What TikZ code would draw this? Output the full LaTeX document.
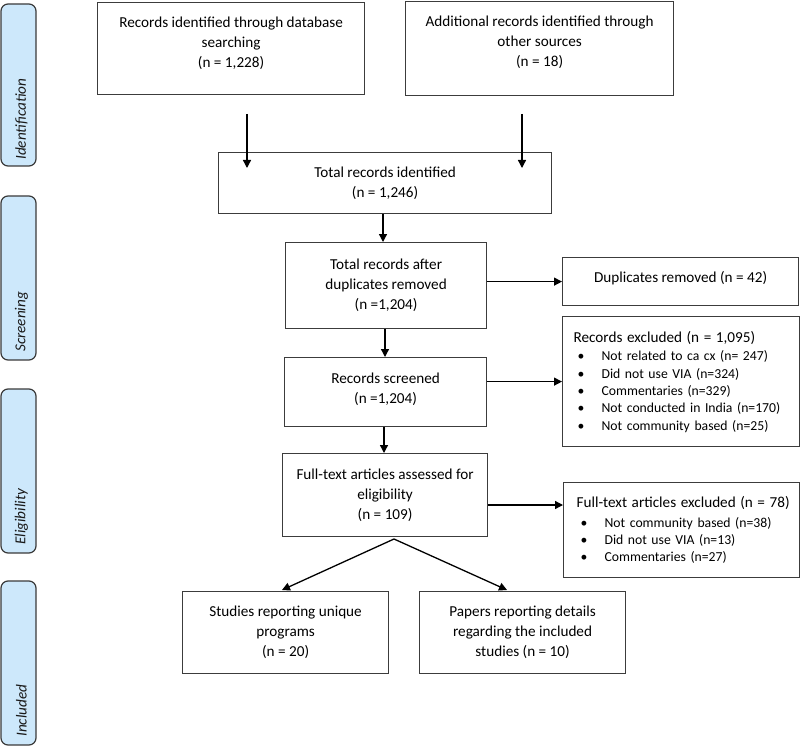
\documentclass[tikz,border=0pt]{standalone}
\usepackage{fontspec}
\setmainfont{Carlito}
\usetikzlibrary{arrows.meta}
\definecolor{sidefill}{HTML}{CDE8FB}
\definecolor{sidedraw}{HTML}{3A3A3A}
\definecolor{boxdraw}{HTML}{3C3C3C}
\newcommand\bdot{\makebox[28pt][l]{\hspace{4pt}\textbullet}}
\begin{document}
\begin{tikzpicture}[x=1pt,y=-1pt,
  box/.style={draw=boxdraw, line width=1.2pt, fill=white, align=center,
    font=\fontsize{15.2}{20}\selectfont, inner sep=0pt, anchor=north west},
  btxt/.style={align=center, font=\fontsize{15.2}{20}\selectfont, inner sep=0pt},
  lbox/.style={draw=boxdraw, line width=1.2pt, fill=white, align=left,
    font=\fontsize{13.7}{17.3}\selectfont, inner ysep=0pt, anchor=north west},
  side/.style={draw=sidedraw, fill=sidefill, line width=1.2pt, rounded corners=7pt,
    minimum width=35pt, inner sep=0pt},
  sidetxt/.style={rotate=90, anchor=west, inner sep=0pt,
    font=\fontsize{15.2}{18}\selectfont\itshape, text=black!90},
  arr/.style={-{Triangle[length=8pt,width=8pt]}, line width=1.3pt, black}]
\useasboundingbox (0,0) rectangle (800,746);

% phase labels
\node[side, minimum height=162pt] (sid) at (18.5,85) {};
\node[side, minimum height=164pt] (ssc) at (18.5,278) {};
\node[side, minimum height=164pt] (sel) at (18.5,471) {};
\node[side, minimum height=164pt] (sin) at (18.5,663) {};
\node[sidetxt] (tid) at (21.5,160) {Identification};
\node[sidetxt] (tsc) at (21.5,352) {Screening};
\node[sidetxt] (tel) at (21.5,545) {Eligibility};
\node[sidetxt] (tin) at (21.5,737) {Included};

% boxes
\node[box, minimum width=267pt, minimum height=92pt,
  label={[btxt, yshift=5pt]center:{Records identified through database\\searching\\(n = 1,228)}}] (db) at (97,2) {};
\node[box, minimum width=268pt, minimum height=94pt,
  label={[btxt, yshift=6pt]center:{Additional records identified through\\other sources\\(n = 18)}}] (add) at (405,1) {};
\node[box, minimum width=333pt, minimum height=61pt] (tot) at (218,152)
  {Total records identified\\(n = 1,246)};
\node[box, minimum width=201pt, minimum height=86pt] (dup) at (285,242)
  {Total records after\\duplicates removed\\(n =1,204)};
\node[box, minimum width=236pt, minimum height=48pt,
  label={[btxt, yshift=3pt]center:{Duplicates removed (n = 42)}}] (dupr) at (562,257) {};
\node[box, minimum width=202pt, minimum height=69pt,
  label={[btxt, yshift=3pt]center:{Records screened\\(n =1,204)}}] (scr) at (284,357) {};
\node[lbox, inner xsep=11pt, text width=215pt, minimum height=130pt] (rex) at (562,316)
  {{\fontsize{15.2}{17.3}\selectfont\mbox{Records excluded (n = 1,095)}}\\[1.5pt]
   \bdot Not related to ca cx (n= 247)\\
   \bdot Did not use VIA (n=324)\\
   \bdot Commentaries (n=329)\\
   \bdot Not conducted in India (n=170)\\
   \bdot Not community based (n=25)};
\node[box, minimum width=205pt, minimum height=83pt] (ft) at (282,453)
  {Full-text articles assessed for\\eligibility\\(n = 109)};
\node[lbox, inner xsep=13pt, text width=210pt, minimum height=95pt] (ftex) at (563,482)
  {{\fontsize{15.2}{17.3}\selectfont\mbox{Full-text articles excluded (n = 78)}}\\[2pt]
   \bdot Not community based (n=38)\\
   \bdot Did not use VIA (n=13)\\
   \bdot Commentaries (n=27)};
\node[box, minimum width=206pt, minimum height=82pt] (stu) at (182,591)
  {Studies reporting unique\\programs\\(n = 20)};
\node[box, minimum width=206pt, minimum height=82pt] (pap) at (419,591)
  {Papers reporting details\\regarding the included\\studies (n = 10)};

% connectors
\coordinate (c1s) at (247,114);
\coordinate (c1e) at (247,168);
\coordinate (c2s) at (522,114);
\coordinate (c2e) at (522,168);
\coordinate (apex) at (394,539);
\coordinate (tstu) at (282,590);
\coordinate (tpap) at (507,590);
\draw[arr] (c1s) -- (c1e);
\draw[arr] (c2s) -- (c2e);
\draw[arr] (383,0 |- tot.south) -- (383,0 |- dup.north);
\draw[arr] (dup.east |- dupr.west) -- (dupr.west);
\draw[arr] (385,0 |- dup.south) -- (385,0 |- scr.north);
\draw[arr] (scr.east |- rex.west) -- (rex.west);
\draw[arr] (384,0 |- scr.south) -- (384,0 |- ft.north);
\draw[arr] (ft.east |- 0,505) -- (ftex.west |- 0,505);
\draw[arr] (apex) -- (tstu);
\draw[arr] (apex) -- (tpap);
\end{tikzpicture}
\end{document}
